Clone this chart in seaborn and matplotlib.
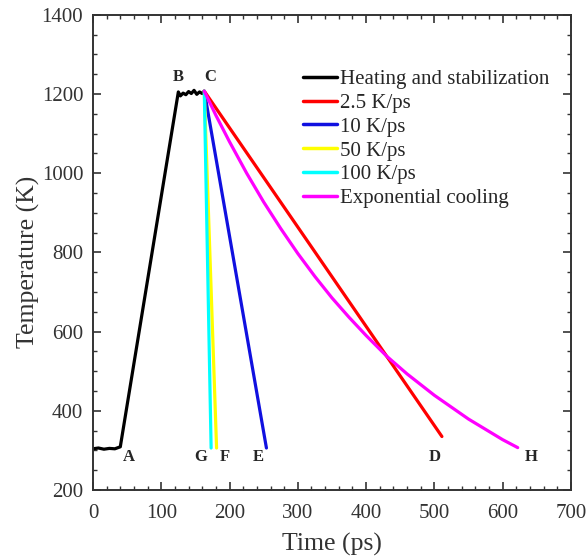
import numpy as np
import pandas as pd
import matplotlib.pyplot as plt
import seaborn as sns
from matplotlib.ticker import MultipleLocator

# Values (time in ps, temperature in K)
heat_t = [0, 8, 16, 24, 32, 40, 125, 128, 132, 136, 140, 144, 148, 152, 156, 160, 163]
heat_T = [304, 306, 303, 305, 304, 309, 1205, 1195, 1202, 1198, 1206, 1201, 1209, 1199, 1205, 1201, 1207]

r25_t = [163, 511]
r25_T = [1207, 335]

r10_t = [163, 254]
r10_T = [1207, 306]

r50_t = [163, 181]
r50_T = [1207, 306]

r100_t = [163, 173]
r100_T = [1207, 306]

exp_t = [163, 180, 200, 225, 250, 275, 300, 325, 350, 375, 400, 430, 460, 500, 550, 600, 622]
exp_T = [1207, 1146, 1079, 1000, 927, 860, 797, 739, 685, 636, 590, 538, 493, 439, 379, 327, 307]

labels = ['Heating and stabilization', '2.5 K/ps', '10 K/ps', '50 K/ps',
          '100 K/ps', 'Exponential cooling']
colors = ['black', 'red', '#1010e0', '#ffff00', '#00ffff', '#ff00ff']

# point labels on the chart
pt_names = ['A', 'B', 'C', 'G', 'F', 'E', 'D', 'H']
pt_x = [52, 125, 172, 158, 193, 242, 500, 642]
pt_y = [283, 1242, 1242, 283, 283, 283, 283, 283]

frames = []
for lab, t, T in zip(labels,
                     [heat_t, r25_t, r10_t, r50_t, r100_t, exp_t],
                     [heat_T, r25_T, r10_T, r50_T, r100_T, exp_T]):
    frames.append(pd.DataFrame({'Time': t, 'Temperature': T, 'Series': lab}))
data = pd.concat(frames, ignore_index=True)

sns.set_style('ticks')
plt.rcParams['font.family'] = ['Liberation Serif', 'DejaVu Serif']

fig = plt.figure(figsize=(5.87, 5.57), dpi=100)
ax = fig.add_axes([0.1584, 0.1203, 0.8143, 0.8533])

sns.lineplot(data=data, x='Time', y='Temperature', hue='Series',
             hue_order=labels, palette=colors, sort=False, estimator=None,
             linewidth=2.3, ax=ax)

for name, x, y in zip(pt_names, pt_x, pt_y):
    ax.text(x, y, name, fontsize=12, fontweight='bold', ha='center', va='center')

ax.set_xlim(0, 700)
ax.set_ylim(200, 1400)
ax.xaxis.set_major_locator(MultipleLocator(100))
ax.xaxis.set_minor_locator(MultipleLocator(20))
ax.yaxis.set_major_locator(MultipleLocator(200))
ax.yaxis.set_minor_locator(MultipleLocator(50))
ax.tick_params(which='both', direction='in', top=True, right=True,
               labelsize=15, color='#333333', labelcolor='#333333')
ax.tick_params(which='major', length=6, width=1.2)
ax.tick_params(which='minor', length=3, width=1.0)
ax.tick_params(axis='x', which='major', pad=10)
ax.tick_params(axis='y', which='major', pad=7)
for s in ax.spines.values():
    s.set_linewidth(1.4)
    s.set_color('#333333')

ax.set_xlabel('Time (ps)', fontsize=18.5, color='#333333', labelpad=7)
ax.set_ylabel('Temperature (K)', fontsize=18.5, color='#333333', labelpad=2)
ax.yaxis.set_label_coords(-0.11, 0.48)

leg = ax.legend(loc='upper right', bbox_to_anchor=(0.985, 0.915), frameon=False,
                fontsize=15, handlelength=1.6, handletextpad=0.15,
                labelspacing=0.2, borderaxespad=0.3)
for line in leg.get_lines():
    line.set_linewidth(2.5)

fig.savefig('out.png', dpi=100)
